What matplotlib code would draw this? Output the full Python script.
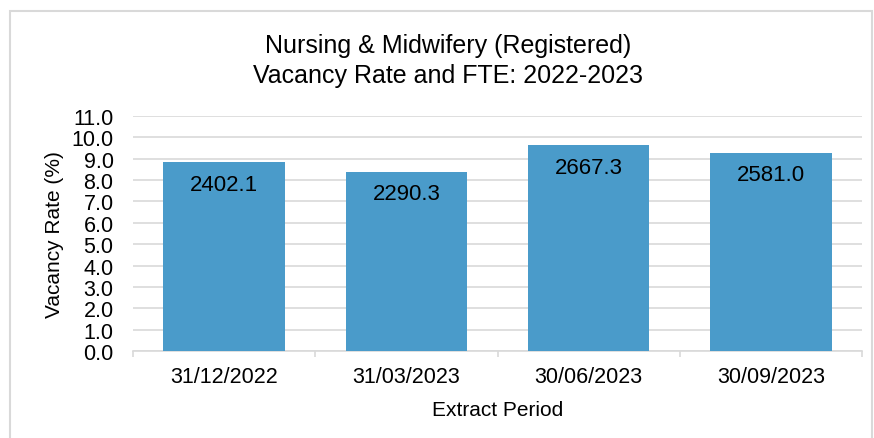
import matplotlib.pyplot as plt
from matplotlib.patches import Rectangle
import numpy as np

# Datos del grafico
periodos = ['31/12/2022', '31/03/2023', '30/06/2023', '30/09/2023']
tasa_vacantes = [8.85, 8.40, 9.62, 9.28]
fte = ['2402.1', '2290.3', '2667.3', '2581.0']

plt.rcParams['font.family'] = ['Liberation Sans', 'DejaVu Sans']

fig = plt.figure(figsize=(8.74, 4.39), dpi=100)
ax = fig.add_axes([133/874, 1 - 352/439, (862 - 133)/874, (352 - 117)/439])

# borde del area del grafico
fig.patches.append(Rectangle((10/874, -0.01), 862/874, 1 - 12/439 + 0.01,
                             transform=fig.transFigure, fill=False,
                             edgecolor='#d9d9d9', linewidth=1.5))

x = np.arange(len(periodos))
barras = ax.bar(x, tasa_vacantes, width=0.667, color='#4a9bca', zorder=3)

for b, etiqueta in zip(barras, fte):
    ax.annotate(etiqueta, (b.get_x() + b.get_width()/2, b.get_height()),
                xytext=(0, -16), textcoords='offset points',
                ha='center', va='center', fontsize=16, color='black')

ax.set_xlim(-0.5, len(periodos) - 0.5)
ax.set_ylim(0, 11)
ax.set_yticks(np.arange(0, 11.5, 1.0))
ax.set_yticklabels(['%.1f' % v for v in np.arange(0, 11.5, 1.0)], fontsize=15.5)
ax.yaxis.grid(True, color='#d9d9d9', linewidth=1.2, zorder=0)
ax.tick_params(axis='y', length=0, pad=14)

ax.set_xticks(x)
ax.set_xticklabels(periodos, fontsize=15.5)
ax.tick_params(axis='x', length=0, pad=11)
# marcas entre categorias
ax.set_xticks(np.arange(-0.5, len(periodos)), minor=True)
ax.tick_params(axis='x', which='minor', length=4.5, color='#d9d9d9', width=1.2)

for lado in ['top', 'right', 'left']:
    ax.spines[lado].set_visible(False)
ax.spines['bottom'].set_color('#d9d9d9')
ax.spines['bottom'].set_linewidth(1.2)

ax.set_xlabel('Extract Period', fontsize=15, labelpad=9)
ax.set_ylabel('Vacancy Rate (%)', fontsize=15, labelpad=5)

fig.text(448/874, 1 - 61/439, 'Nursing & Midwifery (Registered)\nVacancy Rate and FTE: 2022-2023',
         ha='center', va='center', fontsize=18, linespacing=1.35)

fig.savefig('out.png', dpi=100)
